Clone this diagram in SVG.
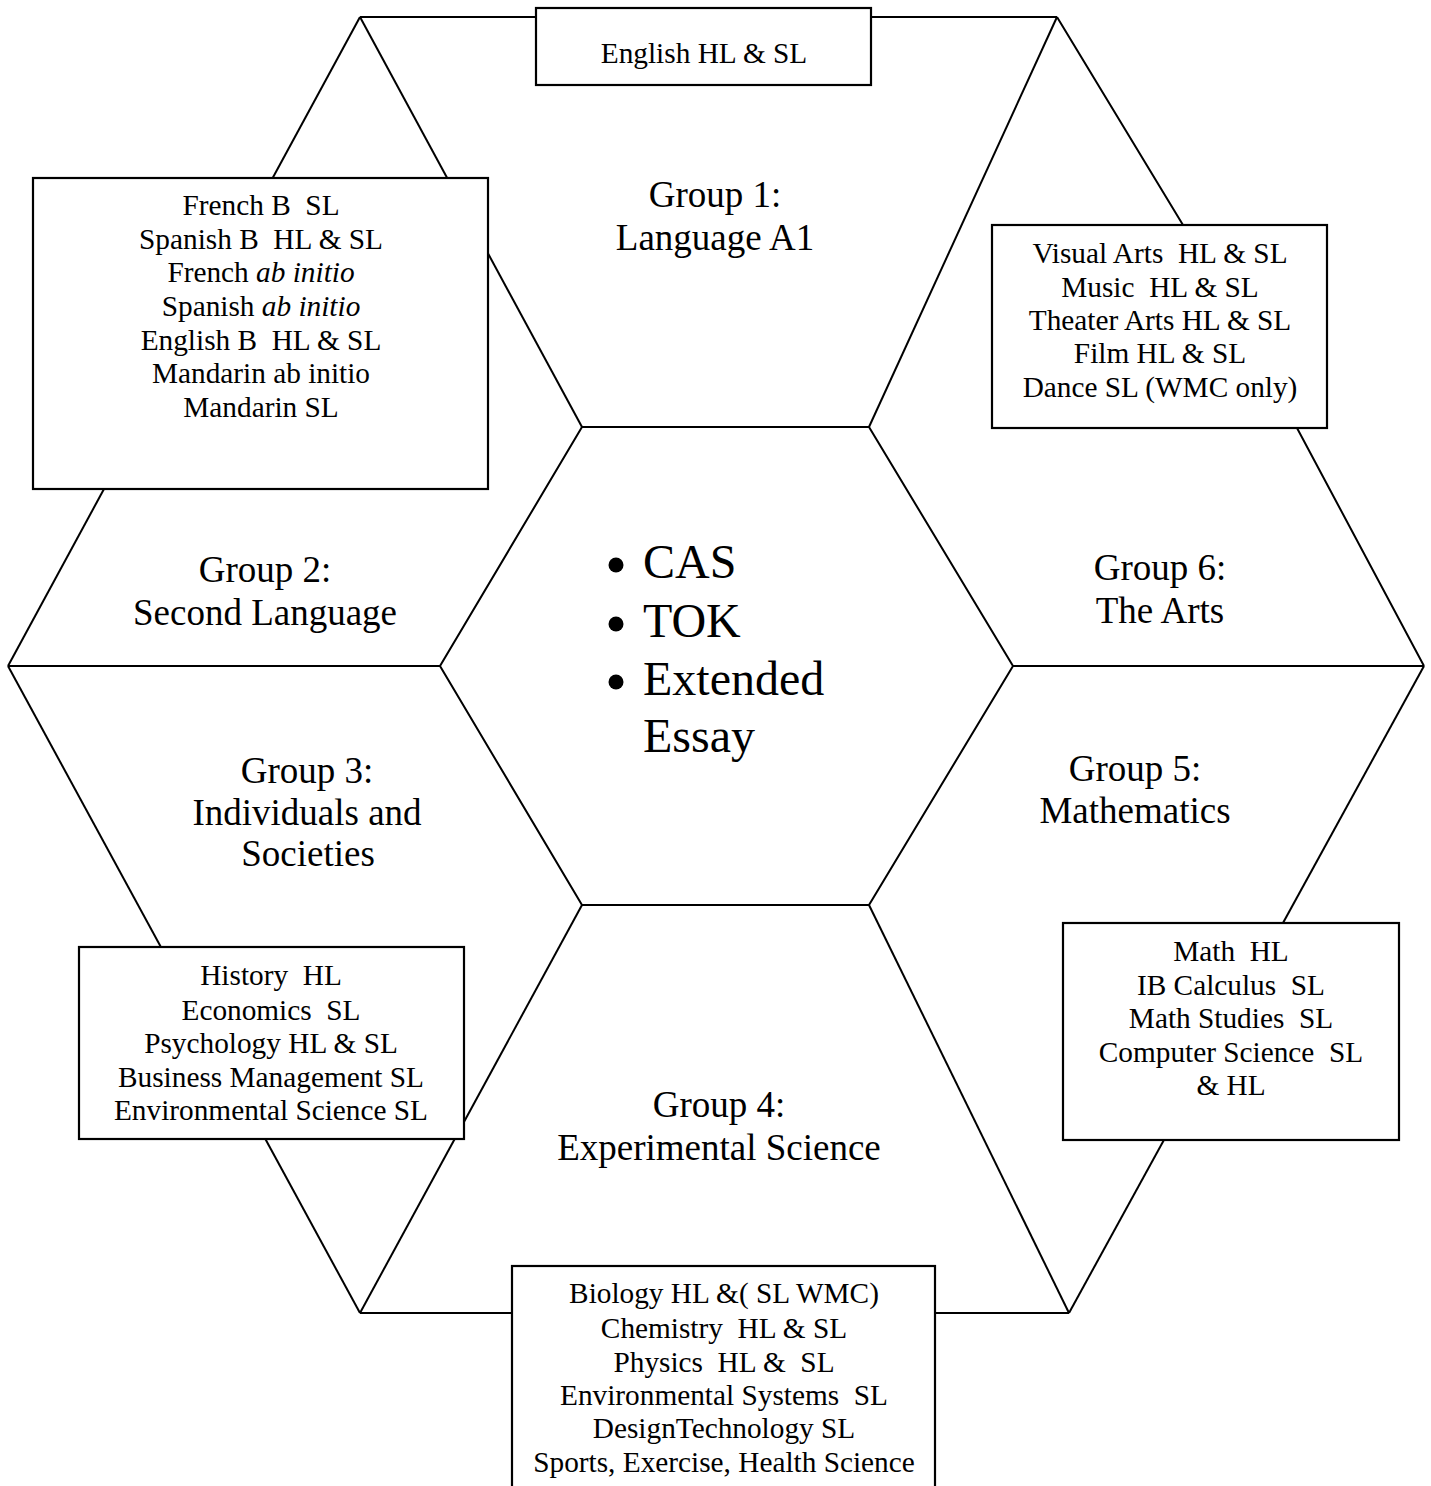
<svg xmlns="http://www.w3.org/2000/svg" width="1431" height="1486" viewBox="0 0 1431 1486">
<style>
.ln{stroke:#000;stroke-width:2;fill:none}
.box{fill:#fff;stroke:#000;stroke-width:2.2}
.t{font-family:"Liberation Serif","Times New Roman",serif;fill:#000;text-anchor:middle;white-space:pre}
.s{font-size:29.3px}
.g{font-size:37px}
.c{font-size:48px;text-anchor:start}
</style>
<rect width="1431" height="1486" fill="#fff"/>
<g id="connectors">
<line class="ln" x1="360" y1="17" x2="1057" y2="17"/>
<line class="ln" x1="360" y1="17" x2="8" y2="666"/>
<line class="ln" x1="8" y1="666" x2="360" y2="1313"/>
<line class="ln" x1="360" y1="1313" x2="1069" y2="1313"/>
<line class="ln" x1="1069" y1="1313" x2="1424" y2="666"/>
<polyline class="ln" points="1057,17 1183,225 1297,428 1424,666"/>
<line class="ln" x1="360" y1="17" x2="582" y2="427"/>
<line class="ln" x1="1057" y1="17" x2="869" y2="427"/>
<line class="ln" x1="360" y1="1313" x2="582" y2="905"/>
<line class="ln" x1="1069" y1="1313" x2="869" y2="905"/>
<line class="ln" x1="8" y1="666" x2="440" y2="666"/>
<line class="ln" x1="1013" y1="666" x2="1424" y2="666"/>
</g>
<g id="core">
<polygon class="ln" points="582,427 869,427 1013,666 869,905 582,905 440,666"/>
<circle cx="616" cy="565" r="7.5" fill="#000"/>
<circle cx="616" cy="624" r="7.5" fill="#000"/>
<circle cx="616" cy="682" r="7.5" fill="#000"/>
<text class="t c" x="643" y="578">CAS</text>
<text class="t c" x="643" y="637">TOK</text>
<text class="t c" x="643" y="695">Extended</text>
<text class="t c" x="643" y="752">Essay</text>
</g>
<g id="group1">
<text class="t g" x="715" y="207">Group 1:</text>
<text class="t g" x="715" y="250">Language A1</text>
</g>
<g id="group2">
<text class="t g" x="265" y="582">Group 2:</text>
<text class="t g" x="265" y="625">Second Language</text>
</g>
<g id="group3">
<text class="t g" x="307" y="783">Group 3:</text>
<text class="t g" x="307" y="825">Individuals and</text>
<text class="t g" x="308" y="866">Societies</text>
</g>
<g id="group4">
<text class="t g" x="719" y="1117">Group 4:</text>
<text class="t g" x="719" y="1160">Experimental Science</text>
</g>
<g id="group5">
<text class="t g" x="1135" y="781">Group 5:</text>
<text class="t g" x="1135" y="823">Mathematics</text>
</g>
<g id="group6">
<text class="t g" x="1160" y="580">Group 6:</text>
<text class="t g" x="1160" y="623">The Arts</text>
</g>
<g id="box-english">
<rect class="box" x="536" y="8" width="335" height="77"/>
<text class="t s" x="704" y="63">English HL &amp; SL</text>
</g>
<g id="box-languages">
<rect class="box" x="33" y="178" width="455" height="311"/>
<text class="t s" x="261" y="215">French B  SL</text>
<text class="t s" x="261" y="249">Spanish B  HL &amp; SL</text>
<text class="t s" x="261" y="282">French <tspan font-style="italic">ab initio</tspan></text>
<text class="t s" x="261" y="316">Spanish <tspan font-style="italic">ab initio</tspan></text>
<text class="t s" x="261" y="350">English B  HL &amp; SL</text>
<text class="t s" x="261" y="383">Mandarin ab initio</text>
<text class="t s" x="261" y="417">Mandarin SL</text>
</g>
<g id="box-arts">
<rect class="box" x="992" y="225" width="335" height="203"/>
<text class="t s" x="1160" y="263">Visual Arts  HL &amp; SL</text>
<text class="t s" x="1160" y="297">Music  HL &amp; SL</text>
<text class="t s" x="1160" y="330">Theater Arts HL &amp; SL</text>
<text class="t s" x="1160" y="363">Film HL &amp; SL</text>
<text class="t s" x="1160" y="397">Dance SL (WMC only)</text>
</g>
<g id="box-societies">
<rect class="box" x="79" y="947" width="385" height="192"/>
<text class="t s" x="271" y="985">History  HL</text>
<text class="t s" x="271" y="1020">Economics  SL</text>
<text class="t s" x="271" y="1053">Psychology HL &amp; SL</text>
<text class="t s" x="271" y="1087">Business Management SL</text>
<text class="t s" x="271" y="1120">Environmental Science SL</text>
</g>
<g id="box-math">
<rect class="box" x="1063" y="923" width="336" height="217"/>
<text class="t s" x="1231" y="961">Math  HL</text>
<text class="t s" x="1231" y="995">IB Calculus  SL</text>
<text class="t s" x="1231" y="1028">Math Studies  SL</text>
<text class="t s" x="1231" y="1062">Computer Science  SL</text>
<text class="t s" x="1231" y="1095">&amp; HL</text>
</g>
<g id="box-science">
<rect class="box" x="512" y="1266" width="423" height="240"/>
<text class="t s" x="724" y="1303">Biology HL &amp;( SL WMC)</text>
<text class="t s" x="724" y="1338">Chemistry  HL &amp; SL</text>
<text class="t s" x="724" y="1372">Physics  HL &amp;  SL</text>
<text class="t s" x="724" y="1405">Environmental Systems  SL</text>
<text class="t s" x="724" y="1438">DesignTechnology SL</text>
<text class="t s" x="724" y="1472">Sports, Exercise, Health Science</text>
</g>
</svg>
